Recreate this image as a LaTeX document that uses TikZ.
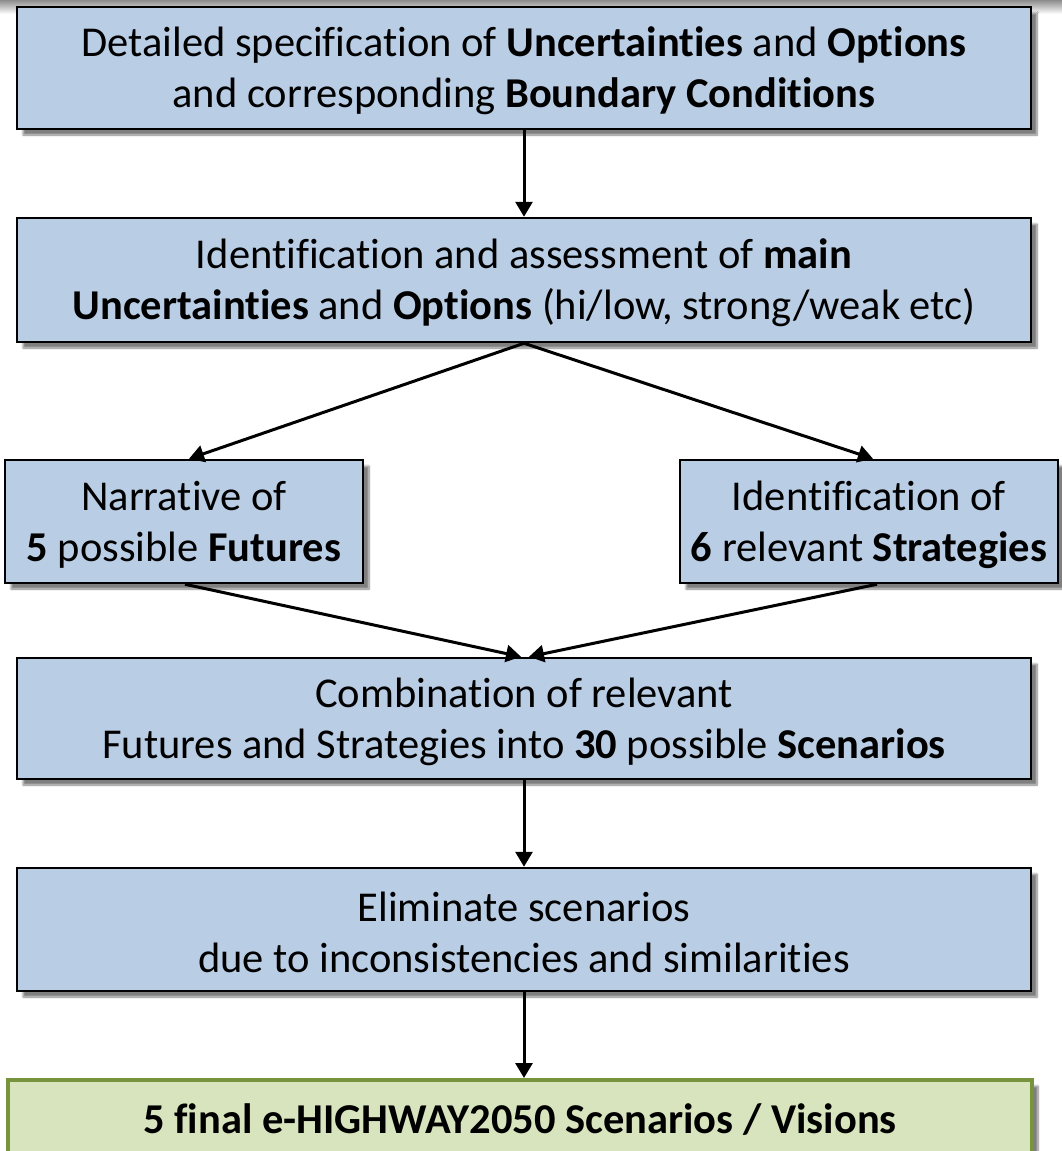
\documentclass[tikz,border=0pt]{standalone}
\usepackage{fontspec}
\setmainfont{Carlito}[Ligatures=NoCommon]
\usetikzlibrary{arrows.meta,shadows.blur}
\definecolor{boxblue}{RGB}{185,205,229}
\definecolor{boxgreen}{RGB}{215,228,189}
\definecolor{greenline}{RGB}{119,147,60}
\definecolor{topgray}{RGB}{140,140,140}
\newcommand\mytopstrut{\rule{0pt}{36pt}}
\begin{document}
\begin{tikzpicture}[x=1pt,y=-1pt,
  flow/.style={draw=black, line width=2.5pt, fill=boxblue, align=center, inner sep=0pt,
    font=\fontsize{42.5}{51}\selectfont,
    blur shadow={shadow xshift=6pt, shadow yshift=-6pt, shadow blur steps=8, shadow opacity=50}},
  final/.style={flow, draw=greenline, line width=4pt, fill=boxgreen},
  arr/.style={line width=3pt, -{Triangle[length=15pt,width=17pt]}}]
\useasboundingbox (0,0) rectangle (1062,1151);
\shade[top color=topgray, bottom color=white, draw=none] (0,0) rectangle (1062,14);
\node[flow, minimum width=1014pt, minimum height=122pt] (b1) at (524,68)
  {\mytopstrut Detailed specification of \textbf{Uncertainties} and \textbf{Options}\\and corresponding \textbf{Boundary Conditions}};
\node[flow, minimum width=1014pt, minimum height=124pt] (b2) at (524,280)
  {\mytopstrut Identification and assessment of \textbf{main}\\\textbf{Uncertainties} and \textbf{Options} (hi/low, strong/weak etc)};
\node[flow, minimum width=358pt, minimum height=123pt] (b3) at (184,521.5)
  {\mytopstrut Narrative of\\\textbf{5} possible \textbf{Futures}};
\node[flow, minimum width=378pt, minimum height=123pt] (b4) at (869,521.5)
  {\mytopstrut Identification of\\\textbf{6} relevant \textbf{Strategies}};
\node[flow, minimum width=1014pt, minimum height=121pt] (b5) at (524,718.5)
  {\mytopstrut Combination of relevant\\Futures and Strategies into \textbf{30} possible \textbf{Scenarios}};
\node[flow, minimum width=1014pt, minimum height=123pt] (b6) at (524,929.5)
  {\mytopstrut Eliminate scenarios\\due to inconsistencies and similarities};
\node[final, minimum width=1024pt, minimum height=80pt] (b7) at (520,1120)
  {\textbf{5 final e-HIGHWAY2050 Scenarios / Visions}};
\draw[arr] (b1.south) -- (b2.north);
\draw[arr] (b2.south) -- ([xshift=5pt]b3.north);
\draw[arr] (b2.south) -- ([xshift=4pt]b4.north);
\draw[arr] ([xshift=1pt]b3.south) -- ([xshift=-3pt]b5.north);
\draw[arr] ([xshift=8pt]b4.south) -- ([xshift=5pt]b5.north);
\draw[arr] (b5.south) -- (b6.north);
\draw[arr] (b6.south) -- (b6.south |- b7.north);
\end{tikzpicture}
\end{document}
